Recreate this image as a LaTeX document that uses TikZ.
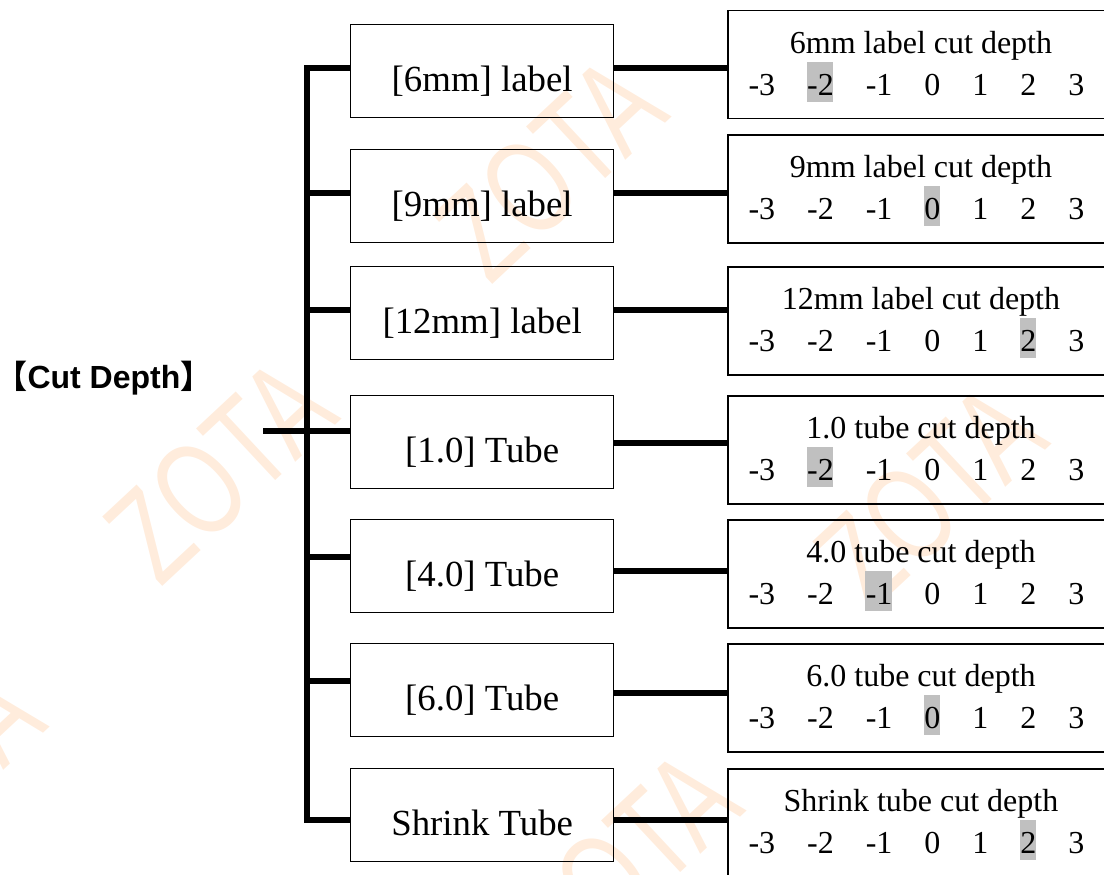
\documentclass[tikz,border=0pt]{standalone}
\usepackage{fontspec}
\setmainfont{Liberation Serif}
\newfontfamily\headfont{Liberation Sans}
\newfontfamily\cjkfont{Noto Sans CJK SC}

\definecolor{hlgray}{RGB}{192,192,192}
\definecolor{wmorange}{RGB}{255,236,220}

\tikzset{every picture/.style={line width=0.75pt}}
\tikzset{
  itembox/.style={draw, line width=1pt, anchor=north west, inner sep=0pt, minimum width=197.25pt, minimum height=69.75pt, text height=49.875pt, text depth=19.875pt, font=\fontsize{27.6}{30}\selectfont},
  depthbox/.style={draw, line width=1.4pt, anchor=north west, inner sep=0pt, minimum width=292.5pt, minimum height=81pt},
  captext/.style={anchor=base, inner sep=0pt, font=\fontsize{24}{28}\selectfont},
  digittext/.style={anchor=base west, inner sep=0pt, font=\fontsize{24}{28}\selectfont},
  branch/.style={line width=4pt},
  wmark/.style={text=wmorange, rotate=43, inner sep=0pt, font=\headfont\fontsize{100}{100}\selectfont}
}

\begin{document}
\begin{tikzpicture}[x=0.75pt,y=0.75pt,yscale=-1,xscale=1]
	\useasboundingbox (0,0) rectangle (1104,875);

	% Watermarks
	\node[wmark] (wm1) at (220,470) {\scalebox{0.72}[1]{ZOTA}};
	\node[wmark] (wm2) at (550,168) {\scalebox{0.72}[1]{ZOTA}};
	\node[wmark] (wm3) at (930,495) {\scalebox{0.72}[1]{ZOTA}};
	\node[wmark] (wm4) at (-72,778) {\scalebox{0.72}[1]{ZOTA}};
	\node[wmark] (wm5) at (625,862) {\scalebox{0.72}[1]{ZOTA}};

	% Text Node
	\node[anchor=base, inner sep=0pt, font=\headfont\bfseries\fontsize{24}{28}\selectfont] (title) at (104,388) {{\cjkfont 【}Cut Depth{\cjkfont 】}};

	%Shape: Rectangle
	\node[itembox] (l1) at (350,24) {[6mm] label};
	\node[itembox] (l2) at (350,149) {[9mm] label};
	\node[itembox] (l3) at (350,266) {[12mm] label};
	\node[itembox] (l4) at (350,395) {[1.0] Tube};
	\node[itembox] (l5) at (350,519) {[4.0] Tube};
	\node[itembox] (l6) at (350,643) {[6.0] Tube};
	\node[itembox] (l7) at (350,768) {Shrink Tube};

	%Shape: Rectangle
	\node[depthbox] (r1) at (727,9.5) {};
	\node[depthbox] (r2) at (727,134) {};
	\node[depthbox] (r3) at (727,266) {};
	\node[depthbox] (r4) at (727,395) {};
	\node[depthbox] (r5) at (727,519) {};
	\node[depthbox] (r6) at (727,643) {};
	\node[depthbox] (r7) at (727,768) {};

	%Shape: Highlight
	\fill[hlgray] (806.7,61.5) rectangle (833.3,101.5);
	\fill[hlgray] (924,186) rectangle (940,226);
	\fill[hlgray] (1020,318) rectangle (1036,358);
	\fill[hlgray] (806.7,447) rectangle (833.3,487);
	\fill[hlgray] (865.3,571) rectangle (892,611);
	\fill[hlgray] (924,695) rectangle (940,735);
	\fill[hlgray] (1020,820) rectangle (1036,860);

	% Text Node
	\node[captext] (c1) at (921,53) {6mm label cut depth};
	\node[captext] (c2) at (921,177.5) {9mm label cut depth};
	\node[captext] (c3) at (921,309.5) {12mm label cut depth};
	\node[captext] (c4) at (921,438.5) {1.0 tube cut depth};
	\node[captext] (c5) at (921,562.5) {4.0 tube cut depth};
	\node[captext] (c6) at (921,686.5) {6.0 tube cut depth};
	\node[captext] (c7) at (921,811.5) {Shrink tube cut depth};

	% Text Node
	\node[digittext] (d1) at (748,95) {-3\quad -2\quad -1\quad 0\quad 1\quad 2\quad 3};
	\node[digittext] (d2) at (748,219.5) {-3\quad -2\quad -1\quad 0\quad 1\quad 2\quad 3};
	\node[digittext] (d3) at (748,351.5) {-3\quad -2\quad -1\quad 0\quad 1\quad 2\quad 3};
	\node[digittext] (d4) at (748,480.5) {-3\quad -2\quad -1\quad 0\quad 1\quad 2\quad 3};
	\node[digittext] (d5) at (748,604.5) {-3\quad -2\quad -1\quad 0\quad 1\quad 2\quad 3};
	\node[digittext] (d6) at (748,728.5) {-3\quad -2\quad -1\quad 0\quad 1\quad 2\quad 3};
	\node[digittext] (d7) at (748,853.5) {-3\quad -2\quad -1\quad 0\quad 1\quad 2\quad 3};

	% Branch points
	\coordinate (root) at (263,431);
	\coordinate (a1) at (307,68);
	\coordinate (a2) at (307,193);
	\coordinate (a3) at (307,310);
	\coordinate (a4) at (307,431);
	\coordinate (a5) at (307,557);
	\coordinate (a6) at (307,681);
	\coordinate (a7) at (307,820);
	\coordinate (b1) at (670,68);
	\coordinate (b2) at (670,193);
	\coordinate (b3) at (670,310);
	\coordinate (b4) at (670,443);
	\coordinate (b5) at (670,571);
	\coordinate (b6) at (670,693);
	\coordinate (b7) at (670,820);

	%Straight Lines
	\draw[branch] (a1 -| l1.west) -- (a1) -- (a7) -- (a7 -| l7.west);
	\draw[branch] (root) -- (a4) -- (a4 -| l4.west);
	\draw[branch] (a2) -- (a2 -| l2.west);
	\draw[branch] (a3) -- (a3 -| l3.west);
	\draw[branch] (a5) -- (a5 -| l5.west);
	\draw[branch] (a6) -- (a6 -| l6.west);

	%Straight Lines
	\draw[branch] (l1.east |- b1) -- (r1.west |- b1);
	\draw[branch] (l2.east |- b2) -- (r2.west |- b2);
	\draw[branch] (l3.east |- b3) -- (r3.west |- b3);
	\draw[branch] (l4.east |- b4) -- (r4.west |- b4);
	\draw[branch] (l5.east |- b5) -- (r5.west |- b5);
	\draw[branch] (l6.east |- b6) -- (r6.west |- b6);
	\draw[branch] (l7.east |- b7) -- (r7.west |- b7);

\end{tikzpicture}
\end{document}
